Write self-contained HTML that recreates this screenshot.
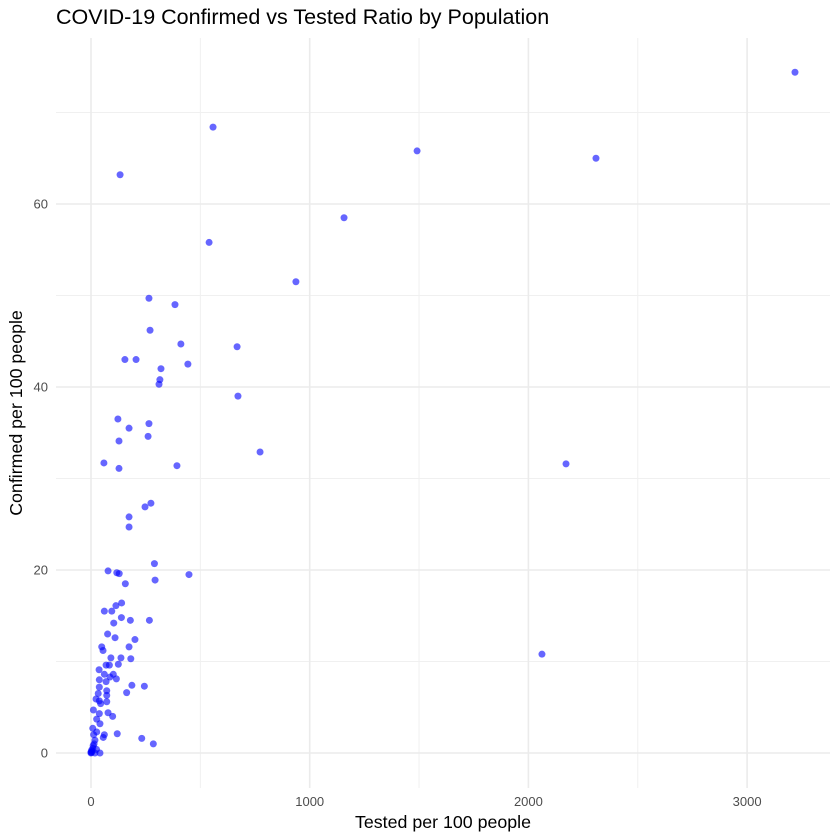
<!DOCTYPE html>
<html><head><meta charset="utf-8"><style>
body{margin:0;background:#fff;}
svg{display:block;font-family:"Liberation Sans",sans-serif;}
</style></head><body>
<svg id="chart" width="840" height="840">
<text x="56" y="24" font-size="21.5" fill="#000">COVID-19 Confirmed vs Tested Ratio by Population</text>
<g id="grid"></g>
<g id="ticks"></g>
<g id="points"></g>
<text x="443" y="828" font-size="17.8" text-anchor="middle" fill="#000">Tested per 100 people</text>
<text transform="translate(22,413) rotate(-90)" font-size="17.8" text-anchor="middle" fill="#000">Confirmed per 100 people</text>
</svg>
<script>
const testedValues=[3219,558,1491,2309,133,1157,540,937,265,384,270,411,668,155,206,443,320,315,311,672,123,265,174,261,128,773,59,393,2172,128,274,247,174,174,2062,
78,118,129,448,293,157,140,114,61,95,139,180,267,104,76,110,201,174,49,55,91,137,182,69,84,125,37,61,102,87,116,69,38,187,244,38,72,163,33,72,23,38,72,44,11,78,99,38,26,41,8,26,120,61,56,232,285,18,14,8,0,18,41,0,3,5,10,2,25,12,290];
const confirmedValues=[74.4,68.4,65.8,65.0,63.2,58.5,55.8,51.5,49.7,49.0,46.2,44.7,44.4,43.0,43.0,42.5,42.0,40.8,40.3,39.0,36.5,36.0,35.5,34.6,34.1,32.9,31.7,31.4,31.6,31.1,27.3,26.9,25.8,24.7,10.8,
19.9,19.7,19.6,19.5,18.9,18.5,16.4,16.1,15.5,15.5,14.8,14.5,14.5,14.2,13.0,12.6,12.4,11.6,11.6,11.2,10.4,10.4,10.3,9.6,9.6,9.7,9.1,8.6,8.6,8.3,8.1,7.8,8.0,7.4,7.3,7.2,6.8,6.6,6.5,6.3,5.9,5.7,5.6,5.4,4.7,4.4,4.0,4.3,3.7,3.2,2.7,2.3,2.1,2.0,1.7,1.6,1.0,1.4,1.0,0.5,0.1,0,0,0,0.3,0.2,0.8,0.05,0.4,2,20.7];
const xMajorTicks=[0,1000,2000,3000];
const xMinorTicks=[500,1500,2500];
const yMajorTicks=[0,20,40,60];
const yMinorTicks=[10,30,50,70];
const NS="http://www.w3.org/2000/svg";
const PL=56,PR=830,PT=38,PB=788;
const X=v=>91+v*0.2187;
const Y=v=>753-v*9.15;
function mk(tag,attrs,parent){const e=document.createElementNS(NS,tag);for(const k in attrs)e.setAttribute(k,attrs[k]);parent.appendChild(e);return e;}
const grid=document.getElementById('grid'),ticks=document.getElementById('ticks'),pts=document.getElementById('points');
xMinorTicks.forEach(v=>{const l=mk('line',{x1:X(v),x2:X(v),y1:PT,y2:PB,stroke:'#f0f0f0','stroke-width':1},grid);

});
yMinorTicks.forEach(v=>{const l=mk('line',{x1:PL,x2:PR,y1:Y(v),y2:Y(v),stroke:'#f0f0f0','stroke-width':1},grid);

});
xMajorTicks.forEach(v=>{const l=mk('line',{x1:X(v),x2:X(v),y1:PT,y2:PB,stroke:'#ebebeb','stroke-width':1.6},grid);


const t=mk('text',{x:X(v),y:806,'font-size':13,'text-anchor':'middle',fill:'#4d4d4d'},ticks);t.textContent=v;

});
yMajorTicks.forEach(v=>{const l=mk('line',{x1:PL,x2:PR,y1:Y(v),y2:Y(v),stroke:'#ebebeb','stroke-width':1.6},grid);


const t=mk('text',{x:48,y:Y(v)+4.5,'font-size':13,'text-anchor':'end',fill:'#4d4d4d'},ticks);t.textContent=v;

});
testedValues.forEach((v,i)=>{const c=mk('circle',{cx:X(v),cy:Y(confirmedValues[i]),r:3.5,fill:'#0000ff','fill-opacity':0.6},pts);

});
</script>
</body></html>
